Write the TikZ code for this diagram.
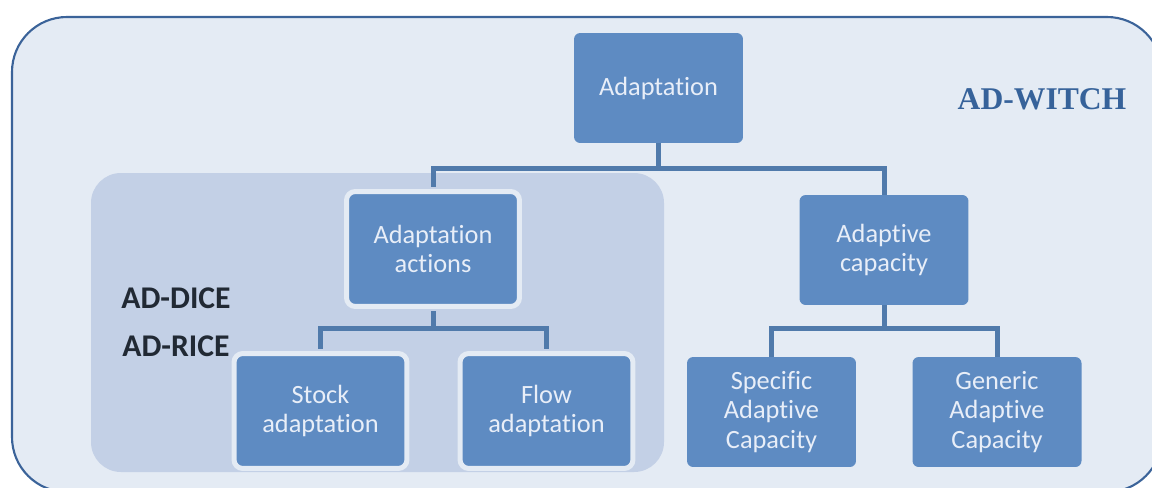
\documentclass[tikz,border=0pt]{standalone}
\usepackage{fontspec}
\setmainfont{Carlito}[RawFeature=-liga, RawFeature=-clig, RawFeature=-calt]
\newfontfamily\timesfont{Liberation Serif}
\usepackage{tikz}
\definecolor{outerfill}{RGB}{228,235,244}
\definecolor{outerline}{RGB}{59,99,153}
\definecolor{innerfill}{RGB}{195,208,230}
\definecolor{nodeblue}{RGB}{94,139,194}
\definecolor{nodetext}{RGB}{232,238,248}
\definecolor{linkblue}{RGB}{80,122,171}
\definecolor{witchblue}{RGB}{54,98,154}
\definecolor{dicegray}{RGB}{33,41,52}

\begin{document}
\begin{tikzpicture}[
  x=0.02cm, y=-0.02cm,
  box/.style={
    rectangle, fill=nodeblue, text=nodetext, rounded corners=3.5pt,
    minimum width=3.38cm, minimum height=2.2cm, inner sep=2pt,
    align=center, font=\fontsize{15}{17}\selectfont
  },
  framedbox/.style={
    box, draw=outerfill, line width=0.1cm, rounded corners=5pt,
    minimum width=3.46cm, minimum height=2.3cm
  },
  link/.style={draw=linkblue, line width=0.1cm},
  model/.style={text=dicegray, font=\fontsize{18}{20}\selectfont\bfseries}
]
  \useasboundingbox (0,0) rectangle (1152,487);

  % frames
  \begin{scope}
    \clip (0,0) rectangle (1152,487);
    \draw[outerline, fill=outerfill, line width=1.2pt, rounded corners=1.1cm]
      (12,17) rectangle (1162,492);
  \end{scope}
  \fill[innerfill, rounded corners=0.6cm] (91,173) rectangle (664,472);

  \node[text=witchblue, font=\timesfont\fontsize{18}{20}\selectfont\bfseries] (witch) at (1042,99) {AD-WITCH};
  \node[model] (dice) at (176,298) {AD-DICE};
  \node[model] (rice) at (176,346) {AD-RICE};

  % tree
  \node[box]       (adapt)    at (658.5,88)   {Adaptation};
  \node[framedbox] (actions)  at (433,249)    {Adaptation\\actions};
  \node[box]       (capac)    at (884,250)    {Adaptive\\capacity};
  \node[framedbox] (stock)    at (320.5,411)  {Stock\\adaptation};
  \node[framedbox] (flow)     at (546.5,411)  {Flow\\adaptation};
  \node[box]       (specific) at (771.5,412)  {Specific\\Adaptive\\Capacity};
  \node[box]       (generic)  at (997,412)    {Generic\\Adaptive\\Capacity};

  \draw[link, shorten >=0.05cm] (adapt.south) -- ++(0,25) -| (actions.north);
  \draw[link] (adapt.south) -- ++(0,25) -| (capac.north);
  \draw[link, shorten <=0.05cm, shorten >=0.05cm] (actions.south) -- ++(0,20) -| (stock.north);
  \draw[link, shorten <=0.05cm, shorten >=0.05cm] (actions.south) -- ++(0,20) -| (flow.north);
  \draw[link] (capac.south) -- ++(0,23) -| (specific.north);
  \draw[link] (capac.south) -- ++(0,23) -| (generic.north);
\end{tikzpicture}
\end{document}
